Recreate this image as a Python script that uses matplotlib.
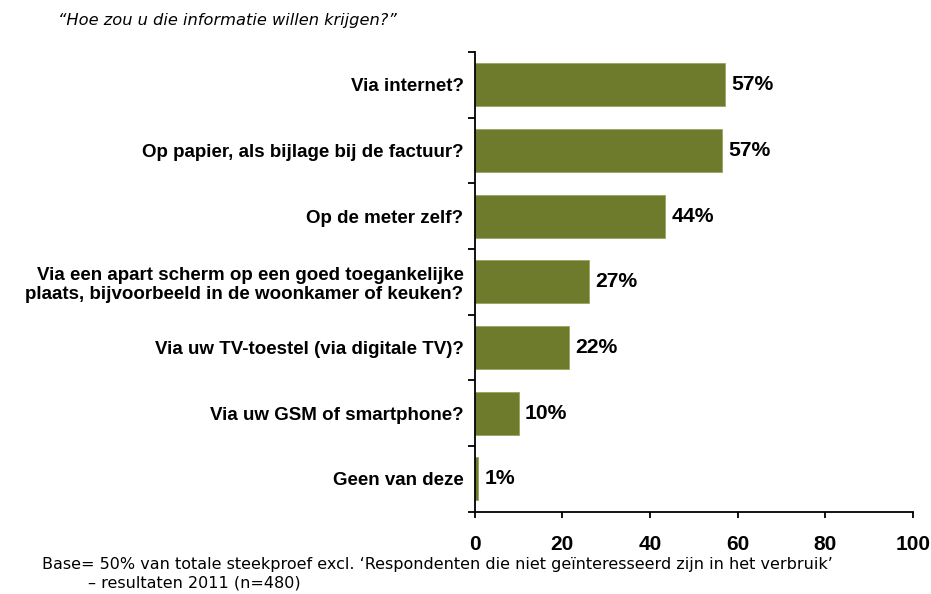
import matplotlib
matplotlib.use("Agg")
import matplotlib.pyplot as plt
import numpy as np

categories = [
    "Via internet?",
    "Op papier, als bijlage bij de factuur?",
    "Op de meter zelf?",
    "Via een apart scherm op een goed toegankelijke\nplaats, bijvoorbeeld in de woonkamer of keuken?",
    "Via uw TV-toestel (via digitale TV)?",
    "Via uw GSM of smartphone?",
    "Geen van deze",
]
values = [57.2, 56.5, 43.5, 26.1, 21.6, 10.0, 0.8]
value_labels = ["57%", "57%", "44%", "27%", "22%", "10%", "1%"]
x_ticks = [0, 20, 40, 60, 80, 100]

title = "\u201cHoe zou u die informatie willen krijgen?\u201d"
footnote1 = "Base= 50% van totale steekproef excl. \u2018Respondenten die niet ge\u00efnteresseerd zijn in het verbruik\u2019"
footnote2 = "\u2013 resultaten 2011 (n=480)"

bar_color = "#6E7B2C"

fig = plt.figure(figsize=(9.31, 5.94), dpi=100)
ax = fig.add_axes([474.7 / 931, 1 - 511.7 / 594, (913 - 474.7) / 931, (511.7 - 52) / 594])

n = len(categories)
y = np.arange(n)
ax.barh(y, values, height=0.655, color=bar_color, edgecolor="#9AA45E", linewidth=0.6)

ax.set_xlim(0, 100)
ax.set_ylim(n - 0.5, -0.5)

for yi, v, lab in zip(y, values, value_labels):
    ax.annotate(lab, xy=(v, yi), xytext=(4.5, 0), textcoords="offset points",
                ha="left", va="center", fontsize=15.2, fontweight="bold",
                family="Liberation Sans", color="black")

# y axis: boundary ticks, labels at centers
ax.set_yticks(np.arange(-0.5, n, 1.0))
ax.set_yticklabels([])
ax.set_yticks(y, minor=True)
ax.set_yticklabels(categories, minor=True, fontsize=13.5, fontweight="bold",
                   family="Liberation Sans", ha="right")
ax.tick_params(axis="y", which="major", direction="out", length=5, width=1.3)
ax.tick_params(axis="y", which="minor", length=0, pad=8)

ax.set_xticks(x_ticks)
ax.set_xticklabels([str(t) for t in x_ticks], fontsize=15, fontweight="bold",
                   family="Liberation Sans")
ax.tick_params(axis="x", direction="out", length=4.5, width=1.3, pad=12)

for side in ["top", "right"]:
    ax.spines[side].set_visible(False)
for side in ["left", "bottom"]:
    ax.spines[side].set_linewidth(1.3)

fig.text(58 / 931, 1 - 20 / 594, title, fontsize=11.7, style="italic",
         family="DejaVu Sans", ha="left", va="center")
fig.text(42 / 931, 1 - 565 / 594, footnote1, fontsize=11.5, family="DejaVu Sans",
         ha="left", va="center")
fig.text(88 / 931, 1 - 583 / 594, footnote2, fontsize=11.5, family="DejaVu Sans",
         ha="left", va="center")

fig.savefig("out.png", dpi=100)
